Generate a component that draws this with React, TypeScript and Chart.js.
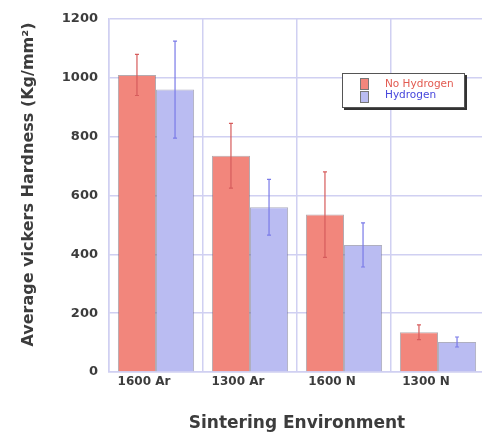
import React, { useEffect, useRef } from "react";
import { Chart, registerables } from "chart.js";

Chart.register(...registerables);

const categories = ["1600 Ar", "1300 Ar", "1600 N", "1300 N"];
const seriesNames = ["No Hydrogen", "Hydrogen"];
const noHydrogen = [1010, 735, 535, 135];
const noHydrogenErr = [70, 110, 145, 25];
const hydrogen = [960, 560, 432, 102];
const hydrogenErr = [165, 95, 75, 17];
const yMin = 0;
const yMax = 1200;
const yStep = 200;
const xTitle = "Sintering Environment";
const yTitle = "Average vickers Hardness (Kg/mm²)";

const RED = "rgb(242,134,124)";
const BLUE = "rgb(186,188,242)";
const RED_ERR = "rgb(214,92,92)";
const BLUE_ERR = "rgb(122,122,232)";
const GRID = "rgb(208,208,242)";
const TEXT = "#3c3c3c";
const FONT = "'DejaVu Sans', Verdana, sans-serif";

const errors = [noHydrogenErr, hydrogenErr];
const errColors = [RED_ERR, BLUE_ERR];

const errorBarPlugin = {
  id: "errorBars",
  afterDatasetsDraw(chart: any) {
    const ctx = chart.ctx;
    const yScale = chart.scales.y;
    chart.data.datasets.forEach((ds: any, i: number) => {
      const meta = chart.getDatasetMeta(i);
      meta.data.forEach((el: any, j: number) => {
        const v = ds.data[j];
        const e = errors[i][j];
        const yTop = yScale.getPixelForValue(v + e);
        const yBot = yScale.getPixelForValue(v - e);
        ctx.save();
        ctx.strokeStyle = errColors[i];
        ctx.lineWidth = 1.2;
        ctx.beginPath();
        ctx.moveTo(el.x, yTop);
        ctx.lineTo(el.x, yBot);
        ctx.moveTo(el.x - 2, yTop);
        ctx.lineTo(el.x + 2, yTop);
        ctx.moveTo(el.x - 2, yBot);
        ctx.lineTo(el.x + 2, yBot);
        ctx.stroke();
        ctx.restore();
      });
    });
  },
};

const yTitlePlugin = {
  id: "yTitle",
  afterDraw(chart: any) {
    const ctx = chart.ctx;
    const area = chart.chartArea;
    ctx.save();
    ctx.translate(29, (area.top + area.bottom) / 2 - 11);
    ctx.rotate(-Math.PI / 2);
    ctx.textAlign = "center";
    ctx.textBaseline = "middle";
    ctx.fillStyle = TEXT;
    ctx.font = `bold 16px ${FONT}`;
    ctx.fillText(yTitle, 0, 0);
    ctx.restore();
  },
};

export default function App() {
  const canvasRef = useRef<HTMLCanvasElement | null>(null);

  useEffect(() => {
    const canvas = canvasRef.current;
    if (!canvas) return;
    const chart = new Chart(canvas, {
      type: "bar",
      data: {
        labels: categories,
        datasets: [
          {
            label: seriesNames[0],
            data: noHydrogen,
            backgroundColor: RED,
            borderColor: "rgba(120,100,110,0.55)",
            borderWidth: 1,
            barPercentage: 1.0,
            categoryPercentage: 0.81,
          },
          {
            label: seriesNames[1],
            data: hydrogen,
            backgroundColor: BLUE,
            borderColor: "rgba(110,110,140,0.55)",
            borderWidth: 1,
            barPercentage: 1.0,
            categoryPercentage: 0.81,
          },
        ],
      },
      options: {
        responsive: false,
        animation: false,
        maintainAspectRatio: false,
        layout: { padding: { top: 19, right: 7, left: 0, bottom: 0 } },
        plugins: {
          legend: { display: false },
          tooltip: { enabled: false },
        },
        scales: {
          x: {
            grid: { color: GRID, lineWidth: 1.5, drawTicks: false, offset: true },
            border: { color: GRID, width: 1.5 },
            ticks: {
              color: TEXT,
              padding: 3,
              labelOffset: -12,
              font: { family: FONT, size: 12, weight: "bold" },
            },
            title: {
              display: true,
              text: xTitle,
              color: TEXT,
              padding: { top: 0, bottom: 2 },
              font: { family: FONT, size: 17, weight: "bold" },
            },
            afterFit: (scale: any) => {
              scale.height = 64;
            },
          },
          y: {
            min: yMin,
            max: yMax,
            ticks: {
              stepSize: yStep,
              color: TEXT,
              padding: 11,
              callback: (v: any) => String(v),
              font: { family: FONT, size: 13, weight: "bold" },
            },
            grid: { color: GRID, lineWidth: 1.5, drawTicks: false },
            border: { color: GRID, width: 1.5 },
            title: { display: false },
            afterFit: (scale: any) => {
              scale.width = 109;
            },
          },
        },
      },
      plugins: [errorBarPlugin, yTitlePlugin],
    });
    return () => chart.destroy();
  }, []);

  const swatch = (color: string) => ({
    width: 7,
    height: 10,
    background: color,
    border: "1px solid #777",
  });

  return (
    <div
      style={{
        position: "absolute",
        left: 0,
        top: 0,
        width: 482,
        height: 436,
        overflow: "hidden",
        background: "#fff",
      }}
    >
      <canvas ref={canvasRef} width={492} height={436} style={{ display: "block", width: 492, height: 436 }} />
      <div
        style={{
          position: "absolute",
          left: 342,
          top: 73,
          width: 121,
          height: 33,
          background: "#fff",
          border: "1px solid #555",
          boxShadow: "2px 2px 0 #333",
          fontFamily: FONT,
          fontSize: 10.5,
          lineHeight: "11px",
        }}
      >
        <div style={{ position: "absolute", left: 17, top: 4, display: "flex", flexDirection: "column", gap: 1 }}>
          <div style={swatch(RED)} />
          <div style={swatch(BLUE)} />
        </div>
        <div style={{ position: "absolute", left: 42, top: 4, color: "rgb(226,90,80)" }}>{seriesNames[0]}</div>
        <div style={{ position: "absolute", left: 42, top: 15, color: "rgb(70,70,220)" }}>{seriesNames[1]}</div>
      </div>
    </div>
  );
}
